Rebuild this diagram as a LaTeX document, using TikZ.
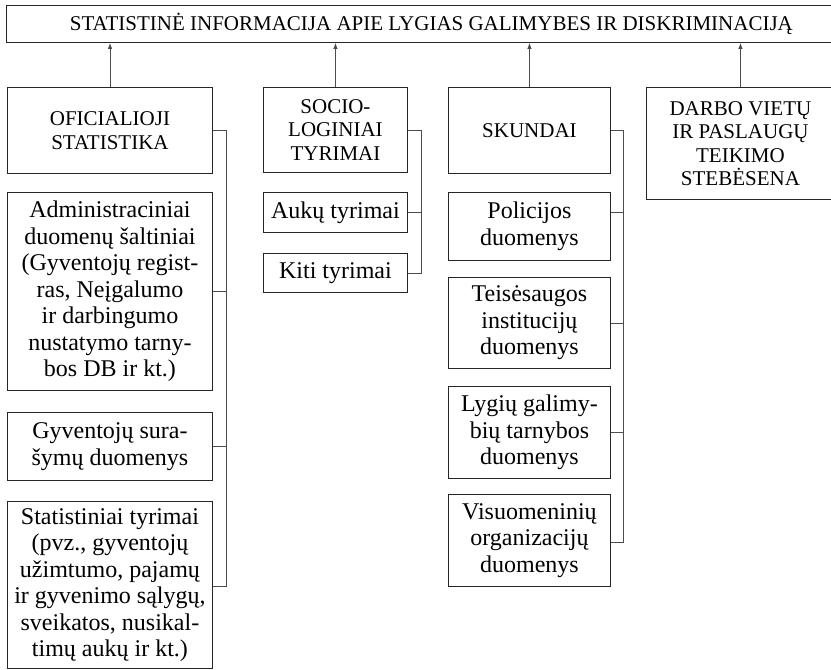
\documentclass[tikz,border=0pt]{standalone}
\usepackage{fontspec}
\setmainfont{Liberation Serif}
\usetikzlibrary{arrows.meta}
\begin{document}
\begin{tikzpicture}[x=1pt,y=-1pt,
  box/.style={draw=black!85,line width=0.9pt,inner sep=0pt,align=center,anchor=north west},
  body/.style={font=\fontsize{24}{26.5}\selectfont},
  caps/.style={font=\fontsize{21}{23.5}\selectfont},
  conn/.style={draw=black!70,line width=0.9pt},
  arr/.style={draw=black!70,line width=0.9pt,-{Latex[length=6pt,width=4.5pt]}}]
\useasboundingbox (0,0) rectangle (831,670);
\fill[white] (0,0) rectangle (831,670);
% top
\node[box,caps,minimum width=850pt,minimum height=37pt] (top) at (6,5) {STATISTINĖ INFORMACIJA APIE LYGIAS GALIMYBES IR DISKRIMINACIJĄ};
% level 2
\node[box,caps,minimum width=205pt,minimum height=86pt] (ofic) at (7,87) {OFICIALIOJI\\STATISTIKA};
\node[box,caps,minimum width=144pt,minimum height=85pt] (socio) at (263,87) {SOCIO-\\LOGINIAI\\TYRIMAI};
\node[box,caps,minimum width=162pt,minimum height=86pt] (skund) at (448,87) {SKUNDAI};
\node[box,caps,minimum width=188pt,minimum height=112pt] (darbo) at (646,87) {DARBO VIETŲ\\IR PASLAUGŲ\\TEIKIMO\\STEBĖSENA};
% column 1
\node[box,body,minimum width=205pt,minimum height=198pt] (admin) at (7,192) {Administraciniai\\duomenų šaltiniai\\(Gyventojų regist-\\ras, Neįgalumo\\ir darbingumo\\nustatymo tarny-\\bos DB ir kt.)};
\node[box,body,minimum width=205pt,minimum height=68pt] (gyv) at (7,412) {Gyventojų sura-\\šymų duomenys};
\node[box,body,minimum width=205pt,minimum height=167pt] (stat) at (7,501) {Statistiniai tyrimai\\(pvz., gyventojų\\užimtumo, pajamų\\ir gyvenimo sąlygų,\\sveikatos, nusikal-\\timų aukų ir kt.)};
% column 2
\node[box,body,minimum width=144pt,minimum height=40pt] (auku) at (263,192) {Aukų tyrimai};
\node[box,body,minimum width=144pt,minimum height=39pt] (kiti) at (263,253) {Kiti tyrimai};
% column 3
\node[box,body,minimum width=162pt,minimum height=68pt] (pol) at (448,192) {Policijos\\duomenys};
\node[box,body,minimum width=162pt,minimum height=91pt] (teis) at (448,277) {Teisėsaugos\\institucijų\\duomenys};
\node[box,body,minimum width=162pt,minimum height=92pt] (lyg) at (448,386) {Lygių galimy-\\bių tarnybos\\duomenys};
\node[box,body,minimum width=162pt,minimum height=92pt] (vis) at (448,494) {Visuomeninių\\organizacijų\\duomenys};
% arrows to top
\draw[arr] (ofic.north -| 110,0) -- (top.south -| 110,0);
\draw[arr] (socio.north) -- (socio.north |- top.south);
\draw[arr] (skund.north) -- (skund.north |- top.south);
\draw[arr] (darbo.north) -- (darbo.north |- top.south);
% bus coordinates
\coordinate (busA) at (226,0);
\coordinate (busB) at (421,0);
\coordinate (busC) at (623,0);
% column 1 connectors
\draw[conn] (ofic.east) -- (ofic.east -| busA) -- ([yshift=-1.5pt]stat.east -| busA) -- ([yshift=-1.5pt]stat.east);
\draw[conn] (admin.east) -- (admin.east -| busA);
\draw[conn] (gyv.east) -- (gyv.east -| busA);
% column 2
\draw[conn] (socio.east) -- (socio.east -| busB) -- (kiti.east -| busB) -- (kiti.east);
\draw[conn] (auku.east) -- (auku.east -| busB);
% column 3
\draw[conn] (skund.east) -- (skund.east -| busC) -- ([yshift=-2pt]vis.east -| busC) -- ([yshift=-2pt]vis.east);
\draw[conn] ([yshift=14pt]pol.east) -- ([yshift=14pt]pol.east -| busC);
\draw[conn] (teis.east) -- (teis.east -| busC);
\draw[conn] (lyg.east) -- (lyg.east -| busC);
\end{tikzpicture}
\end{document}
